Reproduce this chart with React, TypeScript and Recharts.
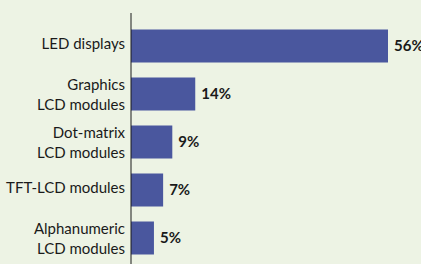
import React from "react"
import { BarChart, Bar, XAxis, YAxis, LabelList } from "recharts"

const categories = [
  "LED displays",
  "Graphics\nLCD modules",
  "Dot-matrix\nLCD modules",
  "TFT-LCD modules",
  "Alphanumeric\nLCD modules",
]
const shares = [56, 14, 9, 7, 5]

const data = categories.map((name, i) => ({ name, value: shares[i] }))

const FONT = "Lato, 'Open Sans', sans-serif"

function CategoryTick(props: any) {
  const { x, y, payload } = props
  const lines = String(payload.value).split("\n")
  return (
    <g>
      {lines.length === 1 ? (
        <text x={x} y={y + 3.5} textAnchor="end" fontSize={15} fill="#1a1a1a" fontFamily={FONT}>
          {lines[0]}
        </text>
      ) : (
        lines.map((line, i) => (
          <text key={i} x={x} y={y - 3.5 + i * 20} textAnchor="end" fontSize={15} fill="#1a1a1a" fontFamily={FONT}>
            {line}
          </text>
        ))
      )}
    </g>
  )
}

export default function App() {
  return (
    <div style={{ position: "fixed", top: 0, left: 0, width: 421, height: 264, background: "#edf3e4", overflow: "hidden" }}>
      <BarChart
        layout="vertical"
        width={421}
        height={264}
        data={data}
        margin={{ top: 13, right: 33, bottom: 0, left: 0 }}
      >
        <XAxis type="number" domain={[0, 56]} hide />
        <YAxis
          type="category"
          dataKey="name"
          width={131}
          tickLine={false}
          tickMargin={0}
          axisLine={{ stroke: "#1a1a1a", strokeWidth: 1 }}
          padding={{ top: 8.5, bottom: 2.5 }}
          tick={<CategoryTick />}
          interval={0}
        />
        <Bar dataKey="value" fill="#4a579e" barSize={33} isAnimationActive={false}>
          <LabelList
            dataKey="value"
            position="right"
            offset={6}
            formatter={(v: any) => `${v}%`}
            style={{ fontFamily: FONT, fontSize: 15, fontWeight: 700, fill: "#1a1a1a" }}
          />
        </Bar>
      </BarChart>
    </div>
  )
}
